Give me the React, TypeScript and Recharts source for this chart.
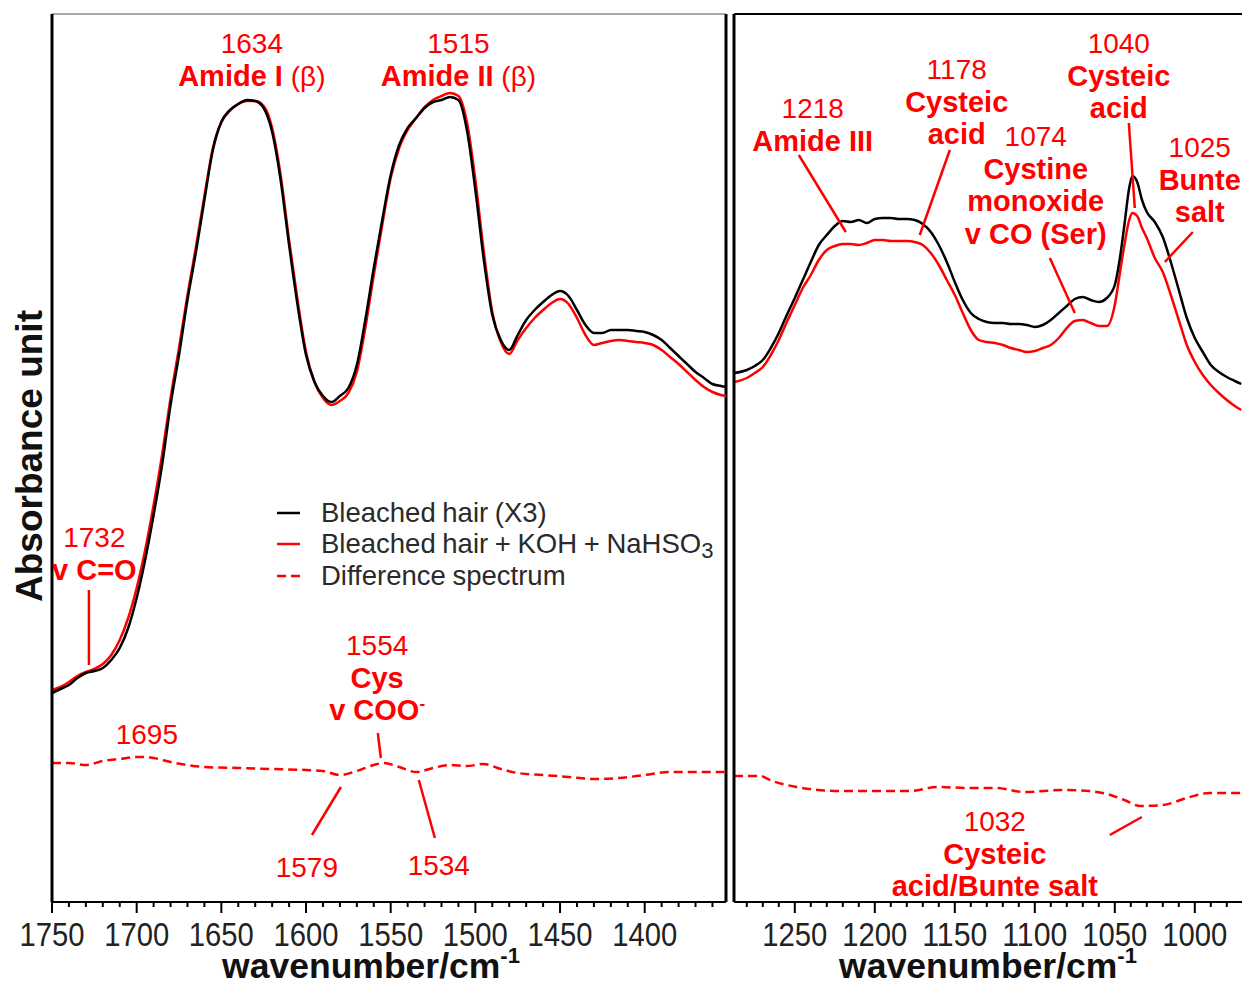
import React from 'react';
import { LineChart, Line, XAxis, YAxis, ReferenceLine, ReferenceDot, Legend, Label } from 'recharts';

const SANS = '"Liberation Sans", Arial, sans-serif';
const NARROW = '"Liberation Sans Narrow", "Liberation Sans", Arial, sans-serif';
const RED = '#ff0000';

// ---- left panel: 1750-1352 cm-1 ----
const leftWavenumbers = [
  1750, 1745, 1740, 1735, 1730, 1725, 1720, 1715, 1710, 1705, 1700, 1695, 1690, 1685, 1680, 1675,
  1670, 1665, 1660, 1655, 1650, 1645, 1640, 1635, 1630, 1625, 1620, 1615, 1610, 1605, 1600, 1595,
  1590, 1585, 1580, 1575, 1570, 1565, 1560, 1555, 1550, 1545, 1540, 1535, 1530, 1525, 1520, 1515,
  1510, 1505, 1500, 1495, 1490, 1485, 1480, 1475, 1470, 1465, 1460, 1455, 1450, 1445, 1440, 1435,
  1430, 1425, 1420, 1415, 1410, 1405, 1400, 1395, 1390, 1385, 1380, 1375, 1370, 1365, 1360, 1355, 1352,
];
const leftBleached = [
  0.209, 0.213, 0.217, 0.224, 0.229, 0.231, 0.234, 0.242, 0.254, 0.274, 0.304, 0.342, 0.387, 0.437, 0.497, 0.547,
  0.602, 0.65, 0.702, 0.752, 0.78, 0.792, 0.798, 0.802, 0.801, 0.794, 0.77, 0.722, 0.657, 0.597, 0.547, 0.52,
  0.506, 0.5, 0.506, 0.514, 0.537, 0.582, 0.634, 0.682, 0.727, 0.757, 0.774, 0.784, 0.794, 0.8, 0.802, 0.805,
  0.802, 0.772, 0.712, 0.642, 0.587, 0.562, 0.552, 0.567, 0.582, 0.592, 0.6, 0.607, 0.611, 0.606, 0.592, 0.577,
  0.569, 0.569, 0.572, 0.572, 0.572, 0.571, 0.57, 0.567, 0.562, 0.554, 0.546, 0.538, 0.53, 0.524, 0.518, 0.516, 0.515,
];
const leftTreated = [
  0.212, 0.215, 0.22, 0.226, 0.23, 0.233, 0.238, 0.247, 0.262, 0.284, 0.314, 0.352, 0.397, 0.447, 0.504, 0.554,
  0.607, 0.655, 0.706, 0.754, 0.78, 0.791, 0.798, 0.801, 0.801, 0.796, 0.774, 0.727, 0.662, 0.602, 0.55, 0.52,
  0.504, 0.497, 0.501, 0.509, 0.53, 0.574, 0.627, 0.677, 0.724, 0.754, 0.772, 0.784, 0.795, 0.802, 0.806, 0.809,
  0.806, 0.78, 0.722, 0.65, 0.59, 0.56, 0.548, 0.562, 0.574, 0.584, 0.592, 0.599, 0.603, 0.598, 0.584, 0.567,
  0.557, 0.559, 0.561, 0.562, 0.561, 0.56, 0.559, 0.557, 0.552, 0.545, 0.538, 0.53, 0.522, 0.515, 0.51, 0.507, 0.506,
];
const leftDiffWavenumbers = [
  1750, 1740, 1730, 1720, 1710, 1700, 1695, 1690, 1680, 1670, 1660, 1640, 1620, 1600, 1590, 1580, 1570, 1560,
  1554, 1545, 1535, 1525, 1515, 1505, 1495, 1485, 1475, 1460, 1445, 1430, 1415, 1400, 1385, 1370, 1352,
];
const leftDiff = [
  0.139, 0.139, 0.137, 0.141, 0.143, 0.145, 0.145, 0.144, 0.14, 0.137, 0.135, 0.134, 0.133, 0.132, 0.131, 0.127, 0.131, 0.137,
  0.139, 0.135, 0.13, 0.134, 0.137, 0.136, 0.138, 0.133, 0.129, 0.127, 0.125, 0.123, 0.124, 0.127, 0.13, 0.13, 0.13,
];

// ---- right panel: 1288-971 cm-1 ----
const rightWavenumbers = [
  1288, 1280, 1275, 1270, 1265, 1260, 1255, 1250, 1245, 1240, 1235, 1230, 1225, 1220, 1215, 1210, 1205, 1200,
  1195, 1190, 1185, 1180, 1175, 1170, 1165, 1160, 1155, 1150, 1145, 1140, 1135, 1130, 1125, 1120, 1115, 1110,
  1105, 1100, 1095, 1090, 1085, 1080, 1075, 1070, 1065, 1060, 1055, 1050, 1047, 1044, 1041, 1039, 1036, 1033,
  1030, 1025, 1020, 1015, 1010, 1005, 1000, 995, 990, 985, 980, 975, 971,
];
const rightBleached = [
  0.529, 0.532, 0.536, 0.542, 0.554, 0.569, 0.587, 0.604, 0.622, 0.64, 0.657, 0.667, 0.676, 0.681, 0.68, 0.682, 0.679, 0.683,
  0.684, 0.684, 0.683, 0.683, 0.682, 0.678, 0.67, 0.657, 0.64, 0.62, 0.602, 0.589, 0.583, 0.58, 0.579, 0.579, 0.578, 0.578,
  0.577, 0.575, 0.577, 0.582, 0.589, 0.596, 0.603, 0.605, 0.602, 0.6, 0.604, 0.617, 0.642, 0.677, 0.714, 0.726, 0.72, 0.702,
  0.69, 0.68, 0.665, 0.64, 0.612, 0.584, 0.564, 0.55, 0.537, 0.53, 0.525, 0.521, 0.518,
];
const rightTreated = [
  0.52, 0.524, 0.529, 0.535, 0.547, 0.562, 0.58, 0.597, 0.614, 0.627, 0.642, 0.652, 0.656, 0.658, 0.658, 0.657, 0.659, 0.662,
  0.662, 0.661, 0.661, 0.661, 0.66, 0.657, 0.649, 0.637, 0.622, 0.607, 0.589, 0.572, 0.562, 0.56, 0.559, 0.557, 0.554, 0.552,
  0.55, 0.551, 0.554, 0.557, 0.564, 0.574, 0.581, 0.582, 0.579, 0.576, 0.576, 0.597, 0.627, 0.657, 0.682, 0.689, 0.686, 0.674,
  0.664, 0.644, 0.63, 0.607, 0.582, 0.557, 0.54, 0.527, 0.517, 0.509, 0.502, 0.496, 0.492,
];
const rightDiffWavenumbers = [
  1288, 1284, 1272, 1264, 1249, 1222, 1197, 1178, 1161, 1141, 1124, 1107, 1082, 1066, 1055, 1044, 1034, 1020, 1003, 991, 971,
];
const rightDiff = [
  0.126, 0.126, 0.126, 0.121, 0.115, 0.111, 0.111, 0.111, 0.115, 0.114, 0.114, 0.11, 0.112, 0.111, 0.108, 0.102, 0.096, 0.097, 0.105, 0.109, 0.109,
];

const leftTicks = [
  1750, 1740, 1730, 1720, 1710, 1700, 1690, 1680, 1670, 1660, 1650, 1640, 1630, 1620, 1610, 1600, 1590, 1580, 1570, 1560,
  1550, 1540, 1530, 1520, 1510, 1500, 1490, 1480, 1470, 1460, 1450, 1440, 1430, 1420, 1410, 1400, 1390, 1380, 1370, 1360,
];
const rightTicks = [
  1280, 1270, 1260, 1250, 1240, 1230, 1220, 1210, 1200, 1190, 1180, 1170, 1160, 1150, 1140, 1130, 1120, 1110, 1100, 1090,
  1080, 1070, 1060, 1050, 1040, 1030, 1020, 1010, 1000, 990, 980,
];

const seriesNames = ['Bleached hair (X3)', 'Bleached hair + KOH + NaHSO₃', 'Difference spectrum'];

type Seg = { t: string; b?: boolean; sup?: boolean };
type Note = { wn: number; a: number; lines: Seg[][] };

const leftNotes: Note[] = [
  { wn: 1632, a: 0.859, lines: [[{ t: '1634' }], [{ t: 'Amide I', b: true }, { t: ' (β)' }]] },
  { wn: 1510, a: 0.859, lines: [[{ t: '1515' }], [{ t: 'Amide II', b: true }, { t: ' (β)' }]] },
  { wn: 1725, a: 0.365, lines: [[{ t: '1732' }], [{ t: 'v C=O', b: true }]] },
  { wn: 1694, a: 0.168, lines: [[{ t: '1695' }]] },
  { wn: 1558, a: 0.257, lines: [[{ t: '1554' }], [{ t: 'Cys', b: true }], [{ t: 'v COO', b: true }, { t: '-', b: true, sup: true }]] },
  { wn: 1599.5, a: 0.035, lines: [[{ t: '1579' }]] },
  { wn: 1521.6, a: 0.037, lines: [[{ t: '1534' }]] },
];
const leftLeaders = [
  [{ x: 1728.2, y: 0.312 }, { x: 1728.2, y: 0.237 }],
  [{ x: 1557.6, y: 0.169 }, { x: 1555.8, y: 0.144 }],
  [{ x: 1579.4, y: 0.115 }, { x: 1596.5, y: 0.067 }],
  [{ x: 1533.4, y: 0.122 }, { x: 1523.9, y: 0.064 }],
];

const rightNotes: Note[] = [
  { wn: 1238.8, a: 0.794, lines: [[{ t: '1218' }], [{ t: 'Amide III', b: true }]] },
  { wn: 1148.8, a: 0.833, lines: [[{ t: '1178' }], [{ t: 'Cysteic', b: true }], [{ t: 'acid', b: true }]] },
  { wn: 1099.4, a: 0.766, lines: [[{ t: '1074' }], [{ t: 'Cystine', b: true }], [{ t: 'monoxide', b: true }], [{ t: 'v CO (Ser)', b: true }]] },
  { wn: 1047.5, a: 0.859, lines: [[{ t: '1040' }], [{ t: 'Cysteic', b: true }], [{ t: 'acid', b: true }]] },
  { wn: 996.9, a: 0.755, lines: [[{ t: '1025' }], [{ t: 'Bunte', b: true }], [{ t: 'salt', b: true }]] },
  { wn: 1125, a: 0.081, lines: [[{ t: '1032' }], [{ t: 'Cysteic', b: true }], [{ t: 'acid/Bunte salt', b: true }]] },
];
const rightLeaders = [
  [{ x: 1247.5, y: 0.747 }, { x: 1218.1, y: 0.67 }],
  [{ x: 1153.1, y: 0.752 }, { x: 1171.9, y: 0.667 }],
  [{ x: 1090.6, y: 0.644 }, { x: 1075, y: 0.589 }],
  [{ x: 1041.25, y: 0.779 }, { x: 1037.5, y: 0.694 }],
  [{ x: 1001.25, y: 0.67 }, { x: 1018.75, y: 0.64 }],
  [{ x: 1033.1, y: 0.085 }, { x: 1053.1, y: 0.067 }],
];

const Y_MAX = 0.888;

const toPoints = (wns: number[], vals: number[]) => wns.map((wn, i) => ({ wn, a: vals[i] }));

const NoteText = ({ cx, cy, lines }: { cx: number; cy: number; lines: Seg[][] }) => (
  <g>
    {lines.map((line, i) => (
      <text key={i} x={cx} y={cy + i * 32.5 + 10} textAnchor="middle" fill={RED} fontFamily={SANS} fontSize={28}>
        {line.map((s, j) => (
          <tspan key={j} fontWeight={s.b ? 'bold' : 'normal'} fontSize={s.sup ? 17 : s.b ? 29 : 28} dy={s.sup ? -11 : 0}>
            {s.t}
          </tspan>
        ))}
      </text>
    ))}
  </g>
);

const AxisTick = (props: any) => {
  const { x, y, payload } = props;
  const major = payload.value % 50 === 0;
  return (
    <g>
      <line x1={x} y1={y} x2={x} y2={y + (major ? 11 : 5)} stroke="#000" strokeWidth={2} />
      {major && (
        <text x={x} y={y + 44} textAnchor="middle" fill="#222" fontFamily={NARROW} fontSize={34}
          textLength={65} lengthAdjust="spacingAndGlyphs">
          {payload.value}
        </text>
      )}
    </g>
  );
};

const axisTitle = (dx: number) => (props: any) => {
  const vb = props.viewBox;
  return (
    <text x={vb.x + vb.width / 2 + dx} y={vb.y + 76} textAnchor="middle" fill="#111" fontFamily={SANS} fontSize={35.5} fontWeight="bold">
      wavenumber/cm
      <tspan fontSize={22} dy={-15}>-1</tspan>
    </text>
  );
};

const yTitle = (props: any) => {
  const vb = props.viewBox;
  const cx = vb.x + 29;
  const cy = vb.y + vb.height / 2 - 2;
  return (
    <text x={cx} y={cy} transform={`rotate(-90, ${cx}, ${cy})`} textAnchor="middle" dominantBaseline="central"
      fill="#111" fontFamily={SANS} fontSize={37} fontWeight="bold">
      Absorbance unit
    </text>
  );
};

// legend text: the subscript 3 is drawn larger than the unicode glyph
const legendLabel = (name: string) => {
  const parts = name.split('₃');
  if (parts.length === 1) return name;
  return (
    <>
      {parts[0]}
      <span style={{ fontSize: 22, position: 'relative', top: 5 }}>3</span>
      {parts[1]}
    </>
  );
};

const renderLegend = (props: any) => (
  <div style={{ fontFamily: SANS, fontSize: 27.5, color: '#2a2a2a', wordSpacing: -1 }}>
    {(props.payload || []).map((entry: any) => (
      <div key={entry.value} style={{ display: 'flex', alignItems: 'center', height: 31.5, whiteSpace: 'nowrap' }}>
        <svg width={44} height={10}>
          <line x1={0} y1={5} x2={23} y2={5} stroke={entry.color} strokeWidth={2.5}
            strokeDasharray={entry.payload && entry.payload.strokeDasharray} />
        </svg>
        <span>{legendLabel(entry.value)}</span>
      </div>
    ))}
  </div>
);

export default function App() {
  return (
    <div style={{ position: 'absolute', left: 0, top: 0, width: 1242, height: 983, overflow: 'hidden', background: '#fff' }}>
      <div style={{ position: 'absolute', left: 0, top: 0 }}>
        <LineChart width={740} height={983} margin={{ top: 14, right: 14, bottom: 0, left: 0 }}>
          <XAxis dataKey="wn" type="number" domain={[1352, 1750]} reversed allowDataOverflow ticks={leftTicks}
            interval={0} height={81} tickSize={0} tickMargin={0} tickLine={false} tick={AxisTick}
            axisLine={{ stroke: '#000', strokeWidth: 2 }}>
            <Label content={axisTitle(-18)} />
          </XAxis>
          <YAxis type="number" domain={[0, Y_MAX]} allowDataOverflow width={52} tick={false} tickLine={false}
            axisLine={{ stroke: '#000', strokeWidth: 3 }}>
            <Label content={yTitle} />
          </YAxis>
          <ReferenceLine x={1352} stroke="#000" strokeWidth={3} />
          <ReferenceLine y={Y_MAX} stroke="#555" strokeWidth={1} />
          <Line data={toPoints(leftWavenumbers, leftTreated)} dataKey="a" name={seriesNames[1]} type="monotone"
            stroke={RED} strokeWidth={2.5} dot={false} isAnimationActive={false} />
          <Line data={toPoints(leftWavenumbers, leftBleached)} dataKey="a" name={seriesNames[0]} type="monotone"
            stroke="#000" strokeWidth={2.5} dot={false} isAnimationActive={false} />
          <Line data={toPoints(leftDiffWavenumbers, leftDiff)} dataKey="a" name={seriesNames[2]} type="monotone"
            stroke={RED} strokeWidth={2.5} strokeDasharray="9 5" dot={false} isAnimationActive={false} />
          {leftLeaders.map((seg, i) => (
            <ReferenceLine key={'l' + i} segment={seg} stroke={RED} strokeWidth={2.5} />
          ))}
          {leftNotes.map((n, i) => (
            <ReferenceDot key={'n' + i} x={n.wn} y={n.a} r={0}
              shape={(p: any) => <NoteText cx={p.cx} cy={p.cy} lines={n.lines} />} />
          ))}
          <Legend layout="vertical" align="center" verticalAlign="middle" content={renderLegend}
            itemSorter={(item: any) => seriesNames.indexOf(item.value)}
            wrapperStyle={{ left: 277, top: 497, width: 440, height: 95 }} />
        </LineChart>
      </div>
      <div style={{ position: 'absolute', left: 728, top: 0 }}>
        <LineChart width={514} height={983} margin={{ top: 14, right: 0, bottom: 0, left: 0 }}>
          <XAxis dataKey="wn" type="number" domain={[970.5, 1288]} reversed allowDataOverflow ticks={rightTicks}
            interval={0} height={81} tickSize={0} tickMargin={0} tickLine={false} tick={AxisTick}
            axisLine={{ stroke: '#000', strokeWidth: 2 }}>
            <Label content={axisTitle(0)} />
          </XAxis>
          <YAxis type="number" domain={[0, Y_MAX]} allowDataOverflow width={6} tick={false} tickLine={false}
            axisLine={{ stroke: '#000', strokeWidth: 3 }} />
          <ReferenceLine y={Y_MAX} stroke="#000" strokeWidth={2} />
          <Line data={toPoints(rightWavenumbers, rightTreated)} dataKey="a" name={seriesNames[1]} type="monotone"
            stroke={RED} strokeWidth={2.5} dot={false} isAnimationActive={false} />
          <Line data={toPoints(rightWavenumbers, rightBleached)} dataKey="a" name={seriesNames[0]} type="monotone"
            stroke="#000" strokeWidth={2.5} dot={false} isAnimationActive={false} />
          <Line data={toPoints(rightDiffWavenumbers, rightDiff)} dataKey="a" name={seriesNames[2]} type="monotone"
            stroke={RED} strokeWidth={2.5} strokeDasharray="9 5" dot={false} isAnimationActive={false} />
          {rightLeaders.map((seg, i) => (
            <ReferenceLine key={'l' + i} segment={seg} stroke={RED} strokeWidth={2.5} />
          ))}
          {rightNotes.map((n, i) => (
            <ReferenceDot key={'n' + i} x={n.wn} y={n.a} r={0}
              shape={(p: any) => <NoteText cx={p.cx} cy={p.cy} lines={n.lines} />} />
          ))}
        </LineChart>
      </div>
    </div>
  );
}
